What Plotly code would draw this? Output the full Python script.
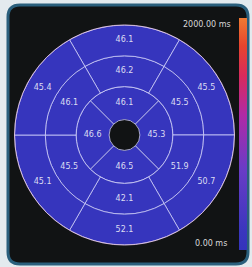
import plotly.graph_objects as go

# AHA-style bullseye values (ms)
outer_theta = [90, 30, 330, 270, 210, 150]
outer_vals = [46.1, 45.5, 50.7, 52.1, 45.1, 45.4]
middle_theta = [90, 30, 330, 270, 210, 150]
middle_vals = [46.2, 45.5, 51.9, 42.1, 45.5, 46.1]
inner_theta = [90, 0, 270, 180]
inner_vals = [46.1, 45.3, 46.5, 46.6]

ring_edges = [0.14, 0.44, 0.72, 1.0]  # hole, inner, middle, outer radii
cmin, cmax = 0.0, 2000.0
tick_labels = ["0.00 ms", "2000.00 ms"]

colorscale = [
    [0.0, "#3434bc"], [0.08, "#3a36be"], [0.35, "#6a3cc6"], [0.58, "#b02aa6"],
    [0.75, "#d82a5c"], [0.88, "#e8442e"], [1.0, "#f07a32"],
]

W, H = 252, 267


def px(x):
    return x / W


def py(y):
    return 1 - y / H


line_col = "rgba(215,215,255,0.75)"
text_col = "#dcdcf2"

fig = go.Figure()

rings = [
    (inner_theta, inner_vals, 90, ring_edges[0], ring_edges[1]),
    (middle_theta, middle_vals, 60, ring_edges[1], ring_edges[2]),
    (outer_theta, outer_vals, 60, ring_edges[2], ring_edges[3]),
]
for i, (th, vals, w, r0, r1) in enumerate(rings):
    fig.add_trace(go.Barpolar(
        theta=th, r=[r1 - r0] * len(th), base=[r0] * len(th), width=[w] * len(th),
        marker=dict(color=vals, colorscale=colorscale, cmin=cmin, cmax=cmax,
                    line=dict(color=line_col, width=1),
                    showscale=(i == 0),
                    colorbar=dict(x=px(239), xanchor="left", xpad=0, ypad=0,
                                  y=py(134), yanchor="middle",
                                  len=232 / H, lenmode="fraction",
                                  thickness=8, thicknessmode="pixels",
                                  outlinewidth=0, showticklabels=False, ticks="")),
        hoverinfo="skip", showlegend=False,
    ))
    fig.add_trace(go.Scatterpolar(
        theta=th, r=[(r0 + r1) / 2] * len(th), mode="text",
        text=[f"{v:.1f}" for v in vals],
        textfont=dict(family="DejaVu Sans", size=8, color=text_col),
        hoverinfo="skip", showlegend=False,
    ))

cx, cy, R = 124.5, 135, 110
fig.update_layout(
    width=W, height=H,
    margin=dict(l=0, r=0, t=0, b=0),
    paper_bgcolor="#e3eaee",
    plot_bgcolor="#111314",
    polar=dict(
        domain=dict(x=[px(cx - R), px(cx + R)], y=[py(cy + R), py(cy - R)]),
        bgcolor="#111314",
        bargap=0,
        radialaxis=dict(range=[0, 1], visible=False, showgrid=False),
        angularaxis=dict(visible=True, showgrid=False, showticklabels=False, ticks="",
                         showline=True, linecolor="rgba(235,205,235,0.85)", linewidth=1,
                         direction="counterclockwise", rotation=0),
    ),
)

# rounded frame
x0, x1 = px(8), px(248)
y0, y1 = py(264), py(5)
rx, ry = 12 / W, 12 / H
path = (f"M {x0+rx},{y0} L {x1-rx},{y0} Q {x1},{y0} {x1},{y0+ry} L {x1},{y1-ry} "
        f"Q {x1},{y1} {x1-rx},{y1} L {x0+rx},{y1} Q {x0},{y1} {x0},{y1-ry} "
        f"L {x0},{y0+ry} Q {x0},{y0} {x0+rx},{y0} Z")
fig.add_shape(type="path", path=path, xref="paper", yref="paper",
              fillcolor="#111314", line=dict(color="#2a5f7c", width=3), layer="below")

fig.add_annotation(x=px(233), y=py(24), xref="paper", yref="paper",
                   text=tick_labels[1], showarrow=False, xanchor="right", yanchor="middle",
                   font=dict(family="DejaVu Sans", size=8, color="#d8d8d8"))
fig.add_annotation(x=px(229), y=py(243), xref="paper", yref="paper",
                   text=tick_labels[0], showarrow=False, xanchor="right", yanchor="middle",
                   font=dict(family="DejaVu Sans", size=8, color="#d8d8d8"))

fig.write_html("out.html", config={"displayModeBar": False},
               post_script="document.body.style.margin='0';document.body.style.overflow='hidden';")
